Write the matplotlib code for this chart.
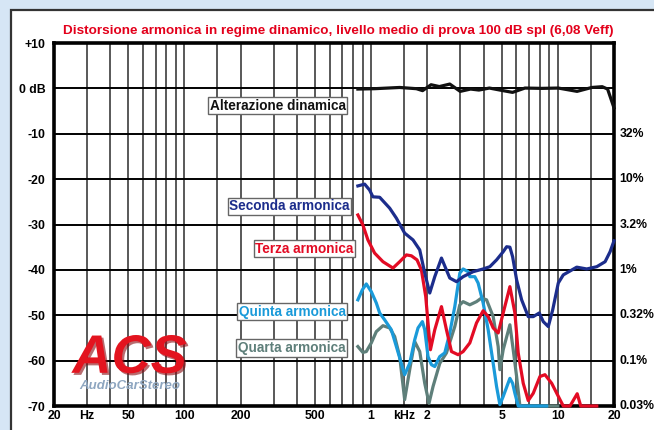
import matplotlib
matplotlib.use('Agg')
import matplotlib.pyplot as plt
from matplotlib.patches import Rectangle
import matplotlib.patheffects as pe

plt.rcParams['font.family'] = ['Liberation Sans', 'DejaVu Sans']

title = "Distorsione armonica in regime dinamico, livello medio di prova 100 dB spl (6,08 Veff)"

# ---- data (frequency in Hz, level in dB) ----
alt_f = [849, 1044, 1422, 1748, 1886, 2094, 2320, 2638, 3000, 3410, 3780, 4300,
         4894, 5720, 6666, 8194, 10058, 12680, 15200, 17290, 18480, 20000]
alt_db = [-0.15, -0.07, 0.2, -0.07, -0.5, 0.8, 0.4, 0.95, -0.66, -0.15, -0.37, 0.07,
          -0.37, -0.88, 0.07, 0.0, 0.07, -0.66, 0.2, 0.37, -0.15, -4.3]

sec_f = [849, 923, 981, 1022, 1111, 1257, 1365, 1512, 1676, 1821, 1937, 2060, 2192,
         2381, 2638, 2866, 3110, 3518, 3982, 4324, 4698, 5098, 5318, 5538, 5726, 6016,
         6400, 6944, 7386, 7956, 8358, 8892, 9390, 10058, 10700, 12628, 14290, 16170,
         17920, 19060, 20000]
sec_db = [-21.5, -21.1, -22.4, -23.9, -24.0, -26.4, -28.6, -31.9, -33.4, -35.6, -40.7,
          -45.1, -41.5, -37.4, -41.8, -42.6, -41.5, -40.4, -39.8, -39.3, -37.8, -36.0,
          -34.9, -35.0, -37.1, -42.2, -46.6, -50.3, -50.3, -49.5, -51.4, -52.5, -48.8,
          -42.9, -41.1, -39.4, -39.8, -39.3, -38.2, -36.0, -33.6]

ter_f = [849, 903, 961, 1044, 1157, 1309, 1422, 1545, 1643, 1761, 1859, 1961, 2017,
         2078, 2192, 2381, 2532, 2694, 2924, 3110, 3378, 3668, 3982, 4236, 4506, 4792,
         5098, 5538, 5890, 6136, 6528, 6944, 7386, 8024, 8536, 9274, 10272, 10700,
         11626, 12700, 13270, 16170]
ter_db = [-27.9, -30.1, -33.4, -36.3, -38.2, -39.6, -38.2, -36.7, -36.9, -37.8, -40.0,
          -45.9, -51.7, -57.6, -53.2, -48.1, -53.2, -58.0, -58.7, -58.0, -56.1, -51.7,
          -49.0, -50.3, -52.8, -53.9, -49.5, -43.7, -49.5, -58.3, -65.0, -68.8, -67.2,
          -63.5, -63.1, -65.0, -68.6, -70.0, -70.0, -67.3, -70.0, -70.0]

qui_f = [849, 897, 942, 1002, 1066, 1111, 1181, 1283, 1365, 1512, 1609, 1712, 1783,
         1882, 1937, 2017, 2104, 2192, 2332, 2480, 2638, 2806, 2986, 3110, 3308, 3378,
         3592, 3742, 3982, 4236, 4506, 4698, 4894, 5098, 5538, 5726, 5890, 6136, 8718]
qui_db = [-46.6, -44.4, -43.1, -44.8, -47.3, -49.5, -51.0, -53.2, -56.9, -63.1, -60.6,
          -55.4, -52.8, -51.4, -53.2, -59.1, -60.9, -61.3, -59.1, -58.3, -53.9, -48.1,
          -40.7, -39.8, -40.4, -41.5, -41.5, -42.9, -47.3, -53.2, -60.6, -65.7, -69.7,
          -67.9, -63.9, -65.0, -67.2, -70.0, -70.0]

qua_f = [849, 903, 942, 1002, 1066, 1157, 1257, 1337, 1422, 1512, 1609, 1712, 1821,
         1937, 2042, 2146, 2332, 2532, 2806, 2986, 3110, 3378, 3668, 3902, 4152, 4506,
         4792, 4894, 5098, 5538, 5768, 6016, 6266, 10000]
qua_db = [-56.9, -58.2, -58.0, -56.1, -53.6, -52.3, -52.8, -54.7, -59.1, -68.6, -62.0,
          -55.8, -58.0, -65.0, -69.4, -65.7, -60.6, -58.3, -52.5, -47.7, -47.0, -47.7,
          -47.0, -46.2, -46.6, -50.3, -56.9, -62.0, -57.6, -52.1, -57.6, -63.5, -70.0,
          -70.0]

grid_f = [20, 30, 40, 50, 60, 70, 80, 90, 100, 150, 200, 300, 400, 500, 600, 700, 800,
          900, 1000, 1500, 2000, 3000, 4000, 5000, 6000, 7000, 8000, 9000, 10000, 15000,
          20000]
x_tick_f = [20, 30, 50, 100, 200, 500, 1000, 1500, 2000, 5000, 10000, 20000]
x_tick_lab = ["20", "Hz", "50", "100", "200", "500", "1", "kHz", "2", "5", "10", "20"]
y_ticks = [10, 0, -10, -20, -30, -40, -50, -60, -70]
y_tick_lab = ["+10", "0 dB", "-10", "-20", "-30", "-40", "-50", "-60", "-70"]
r_ticks = [-10, -20, -30, -40, -50, -60, -70]
r_tick_lab = ["32%", "10%", "3.2%", "1%", "0.32%", "0.1%", "0.03%"]

# ---- figure ----
fig = plt.figure(figsize=(6.54, 4.30), dpi=100)
fig.patch.set_facecolor('#d6e6f5')
fig.patches.append(Rectangle((11/654, -0.05), 1.0, 1 - 10/430 + 0.05,
                             transform=fig.transFigure, facecolor='white',
                             edgecolor='#333333', lw=1.6, zorder=-10))

ax = fig.add_axes([54/654, 24/430, 560/654, 363/430])
ax.set_zorder(1)
ax.set_facecolor('white')
ax.set_xscale('log')
ax.set_xlim(20, 20000)
ax.set_ylim(-70, 10)

ax.set_xticks(grid_f, minor=True)
ax.set_xticks(x_tick_f)
ax.set_xticklabels(x_tick_lab, fontsize=8.8, fontweight='bold')
ax.xaxis.set_minor_formatter(matplotlib.ticker.NullFormatter())
ax.set_yticks(y_ticks)
ax.set_yticklabels(y_tick_lab, fontsize=8.8, fontweight='bold')
ax.tick_params(axis='both', which='both', length=0)
ax.tick_params(axis='x', pad=3)
ax.tick_params(axis='y', pad=6)
ax.xaxis.grid(True, which='both', color='#3c3c3c', lw=1.2)
ax.yaxis.grid(True, which='major', color='black', lw=1.4)
ax.set_axisbelow(True)
for s in ax.spines.values():
    s.set_linewidth(2.6)
    s.set_color('black')

for v, lab in zip(r_ticks, r_tick_lab):
    ax.text(1.01, v, lab, transform=ax.get_yaxis_transform(), ha='left', va='center',
            fontsize=8.8, fontweight='bold', color='black', clip_on=False)

fig.text(338/654, 1 - 31/430, title, ha='center', va='center', fontsize=9.7,
         fontweight='bold', color='#e3001b')

# logo
ax.text(0.135, 0.13, "ACS", transform=ax.transAxes, ha='center', va='center',
        fontsize=39, fontweight='bold', fontstyle='italic', color='#e3141f', zorder=3,
        path_effects=[pe.withSimplePatchShadow(offset=(1.5, -1.5), shadow_rgbFace='#8a0a10', alpha=0.6)])
ax.text(0.135, 0.055, "AudioCarStereo", transform=ax.transAxes, ha='center', va='center',
        fontsize=9.5, fontstyle='italic', fontweight='bold', color='#8ea6c0', zorder=3)

# curves
ax.plot(qua_f, qua_db, color='#5e7f7a', lw=2.3, zorder=4, clip_on=False)
ax.plot(qui_f, qui_db, color='#1a9ad9', lw=2.3, zorder=5, clip_on=False)
ax.plot(ter_f, ter_db, color='#e30b24', lw=2.3, zorder=6, clip_on=False)
ax.plot(sec_f, sec_db, color='#1c2d8c', lw=2.3, zorder=7, clip_on=False)
ax.plot(alt_f, alt_db, color='#111111', lw=2.3, zorder=8, clip_on=False)

box = dict(boxstyle='square,pad=0.12', fc='white', ec='#666666', lw=1.0)
labels = [("Alterazione dinamica", 730, -3.8, '#111111'),
          ("Seconda armonica", 767, -26.0, '#1c2d8c'),
          ("Terza armonica", 805, -35.3, '#e30b24'),
          ("Quinta armonica", 730, -49.2, '#1a9ad9'),
          ("Quarta armonica", 730, -57.2, '#5e7f7a')]
for txt, xf, yd, c in labels:
    ax.text(xf, yd, txt, ha='right', va='center', fontsize=9.8, fontweight='bold',
            color=c, bbox=box, zorder=9)

fig.savefig('out.png', dpi=100, facecolor=fig.get_facecolor())
